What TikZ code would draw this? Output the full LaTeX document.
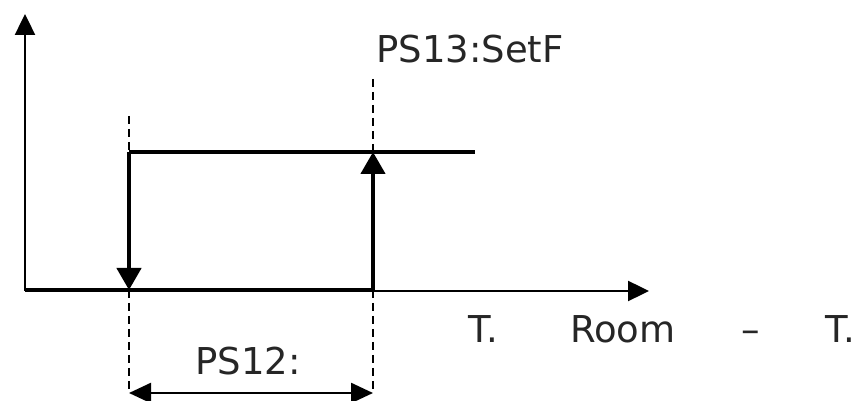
\documentclass[tikz,border=0pt]{standalone}
\usepackage{fontspec}
\setmainfont{DejaVu Sans}
\usetikzlibrary{arrows.meta}
\begin{document}
\begin{tikzpicture}[x=1pt,y=1pt,
  thinline/.style={line width=2.4pt,black},
  thickline/.style={line width=4.4pt,black},
  dashline/.style={line width=2.4pt,black,dash pattern=on 8pt off 5pt},
  bigtip/.style={-{Triangle[width=24pt,length=22pt]}},
  axtip/.style={-{Triangle[width=20pt,length=21pt]}},
  lbl/.style={inner sep=0pt,text=black!85,font=\fontsize{37}{44}\selectfont}]
\useasboundingbox (0,0) rectangle (861,401);
% coordinates
\coordinate (O) at (25,110);
\coordinate (Ytop) at (25,387);
\coordinate (Xend) at (649,110);
\coordinate (A0) at (129,111);
\coordinate (A1) at (129,249);
\coordinate (B0) at (373,111);
\coordinate (B1) at (373,249);
\coordinate (Tend) at (475,249);
\coordinate (Atop) at (129,285);
\coordinate (Btop) at (373,322);
\coordinate (Abot) at (129,9);
\coordinate (Bbot) at (373,9);
\coordinate (Ldim) at (129,8);
\coordinate (Rdim) at (373,8);
% axes
\draw[thinline,axtip] (O) -- (Ytop);
\draw[thinline,axtip] (O) -- (Xend);
% hysteresis
\draw[thickline] (O |- A0) -- (B0);
\draw[thickline] (A1) -- (Tend);
\draw[thickline,bigtip] (A1) -- (A0);
\draw[thickline,bigtip] (B0) -- (B1);
% dashed guides
\draw[dashline] (Atop) -- (A1);
\draw[dashline] (Btop) -- (B1);
\draw[dashline] (A0) -- (Abot);
\draw[dashline] (B0) -- (Bbot);
% dimension
\draw[thinline,{Triangle[width=20pt,length=22pt]}-{Triangle[width=20pt,length=22pt]}] (Ldim) -- (Rdim);
% labels
\node[lbl,anchor=base west] (ps13) at (376,338) {PS13:SetF};
\node[lbl,anchor=base] (ps12) at (248,26) {PS12:};
\node[lbl,anchor=base west] (t1) at (468,58) {T.};
\node[lbl,anchor=base west] (room) at (570,58) {Room};
\node[lbl,anchor=base west] (dash) at (741,58) {–};
\node[lbl,anchor=base west] (t2) at (825,58) {T.};
\end{tikzpicture}
\end{document}
